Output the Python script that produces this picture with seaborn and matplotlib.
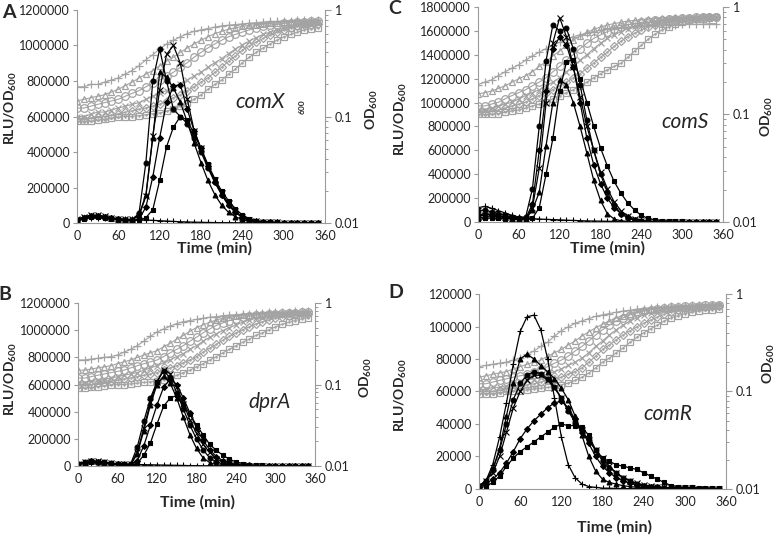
import seaborn as sns
import matplotlib.pyplot as plt
import matplotlib.ticker as mticker
import numpy as np

# time points (min), one reading every 10 min
TIME = list(range(0, 360, 10))

# ---- Panel A (comX) ----
# RLU/OD600 values in thousands
A_RLU_PLUS = [25, 28, 30, 30, 28, 26, 24, 22, 20, 18, 17, 15, 13, 11, 9, 7, 6, 5, 4, 3, 2.5, 2, 2, 1.5, 1.5, 1, 1, 1, 1, 1, 1, 1, 1, 1, 1, 1]
A_RLU_CROSS = [20, 35, 45, 45, 38, 30, 24, 20, 20, 40, 150, 490, 750, 950, 1000, 900, 700, 520, 420, 320, 240, 170, 110, 65, 35, 18, 10, 6, 4, 3, 2, 2, 1, 1, 1, 1]
A_RLU_TRI = [18, 32, 42, 42, 35, 28, 22, 18, 18, 45, 160, 480, 850, 820, 760, 680, 570, 450, 340, 240, 160, 100, 60, 35, 20, 10, 6, 4, 3, 2, 1, 1, 1, 1, 1, 1]
A_RLU_CIRC = [15, 30, 40, 40, 32, 26, 20, 16, 18, 55, 340, 800, 980, 800, 640, 600, 560, 480, 400, 310, 230, 160, 100, 60, 30, 15, 8, 5, 3, 2, 2, 1, 1, 1, 1, 1]
A_RLU_DIAM = [15, 28, 38, 38, 32, 26, 20, 16, 15, 20, 90, 260, 480, 680, 770, 780, 640, 520, 420, 320, 230, 160, 100, 60, 35, 18, 10, 6, 4, 3, 2, 1, 1, 1, 1, 1]
A_RLU_SQ = [12, 25, 35, 35, 30, 24, 18, 15, 14, 15, 30, 75, 240, 430, 540, 600, 580, 500, 420, 330, 250, 180, 125, 80, 45, 25, 14, 8, 5, 3, 2, 2, 1, 1, 1, 1]
A_OD_PLUS = [0.19, 0.19, 0.20, 0.20, 0.21, 0.22, 0.23, 0.25, 0.27, 0.30, 0.34, 0.38, 0.43, 0.48, 0.52, 0.56, 0.60, 0.63, 0.65, 0.67, 0.69, 0.71, 0.72, 0.73, 0.74, 0.75, 0.76, 0.77, 0.78, 0.78, 0.79, 0.79, 0.80, 0.80, 0.81, 0.81]
A_OD_TRI = [0.14, 0.145, 0.15, 0.155, 0.16, 0.17, 0.18, 0.195, 0.21, 0.23, 0.25, 0.27, 0.30, 0.33, 0.36, 0.40, 0.44, 0.48, 0.52, 0.56, 0.60, 0.63, 0.66, 0.68, 0.70, 0.72, 0.73, 0.74, 0.75, 0.76, 0.77, 0.77, 0.78, 0.78, 0.79, 0.79]
A_OD_CIRC = [0.12, 0.12, 0.125, 0.13, 0.135, 0.14, 0.145, 0.155, 0.165, 0.175, 0.19, 0.205, 0.22, 0.24, 0.26, 0.29, 0.32, 0.36, 0.40, 0.44, 0.48, 0.52, 0.56, 0.59, 0.62, 0.65, 0.68, 0.70, 0.72, 0.73, 0.75, 0.76, 0.77, 0.77, 0.78, 0.78]
A_OD_CROSS = [0.10, 0.10, 0.105, 0.11, 0.11, 0.115, 0.12, 0.125, 0.13, 0.135, 0.145, 0.155, 0.165, 0.175, 0.19, 0.20, 0.22, 0.24, 0.26, 0.29, 0.32, 0.35, 0.39, 0.43, 0.47, 0.51, 0.55, 0.59, 0.62, 0.65, 0.68, 0.70, 0.72, 0.74, 0.75, 0.77]
A_OD_DIAM = [0.095, 0.095, 0.097, 0.10, 0.10, 0.103, 0.106, 0.11, 0.113, 0.117, 0.12, 0.125, 0.13, 0.14, 0.15, 0.16, 0.175, 0.19, 0.21, 0.23, 0.26, 0.29, 0.33, 0.37, 0.42, 0.46, 0.50, 0.54, 0.58, 0.62, 0.65, 0.68, 0.70, 0.72, 0.73, 0.74]
A_OD_SQ = [0.09, 0.09, 0.09, 0.092, 0.094, 0.096, 0.098, 0.10, 0.10, 0.102, 0.104, 0.106, 0.108, 0.112, 0.118, 0.125, 0.135, 0.145, 0.16, 0.18, 0.20, 0.22, 0.25, 0.28, 0.32, 0.36, 0.40, 0.44, 0.48, 0.52, 0.56, 0.59, 0.62, 0.65, 0.67, 0.68]

# ---- Panel B (dprA) ----
B_RLU_PLUS = [20, 25, 25, 22, 20, 18, 16, 14, 12, 11, 10, 9, 8, 7, 6, 5, 4, 3, 3, 2, 2, 2, 1.5, 1.5, 1, 1, 1, 1, 1, 1, 1, 1, 1, 1, 1, 1]
B_RLU_CROSS = [15, 30, 40, 35, 28, 22, 16, 12, 12, 100, 280, 470, 620, 710, 680, 580, 460, 340, 240, 160, 100, 55, 30, 15, 8, 5, 3, 2, 1, 1, 1, 1, 1, 1, 1, 1]
B_RLU_TRI = [12, 25, 35, 32, 25, 20, 15, 11, 10, 90, 260, 450, 600, 660, 610, 500, 360, 230, 130, 60, 25, 10, 5, 3, 2, 1, 1, 1, 1, 1, 1, 1, 1, 1, 1, 1]
B_RLU_CIRC = [14, 28, 38, 33, 26, 20, 15, 12, 15, 140, 330, 500, 620, 700, 650, 540, 420, 300, 200, 120, 60, 30, 15, 8, 5, 3, 2, 1, 1, 1, 1, 1, 1, 1, 1, 1]
B_RLU_DIAM = [12, 24, 34, 30, 24, 18, 14, 10, 8, 40, 150, 300, 450, 580, 640, 600, 500, 390, 280, 190, 120, 70, 40, 22, 12, 7, 4, 3, 2, 1, 1, 1, 1, 1, 1, 1]
B_RLU_SQ = [10, 20, 30, 28, 22, 16, 12, 8, 5, 20, 80, 170, 310, 440, 500, 520, 460, 380, 300, 230, 160, 115, 80, 50, 30, 18, 10, 6, 4, 3, 2, 1, 1, 1, 1, 1]
B_OD_PLUS = [0.20, 0.20, 0.205, 0.21, 0.215, 0.22, 0.23, 0.25, 0.27, 0.30, 0.34, 0.39, 0.44, 0.48, 0.52, 0.56, 0.59, 0.61, 0.63, 0.65, 0.67, 0.68, 0.70, 0.71, 0.72, 0.73, 0.74, 0.75, 0.76, 0.77, 0.77, 0.78, 0.78, 0.79, 0.79, 0.80]
B_OD_TRI = [0.15, 0.15, 0.155, 0.16, 0.165, 0.17, 0.18, 0.19, 0.20, 0.215, 0.23, 0.245, 0.26, 0.29, 0.32, 0.36, 0.40, 0.45, 0.50, 0.54, 0.58, 0.62, 0.65, 0.67, 0.69, 0.71, 0.72, 0.73, 0.74, 0.75, 0.76, 0.76, 0.77, 0.77, 0.78, 0.78]
B_OD_CIRC = [0.12, 0.12, 0.125, 0.13, 0.135, 0.14, 0.145, 0.15, 0.16, 0.17, 0.18, 0.19, 0.20, 0.22, 0.245, 0.27, 0.30, 0.34, 0.38, 0.43, 0.48, 0.53, 0.57, 0.61, 0.64, 0.67, 0.69, 0.71, 0.72, 0.73, 0.74, 0.75, 0.76, 0.76, 0.77, 0.77]
B_OD_CROSS = [0.105, 0.105, 0.11, 0.11, 0.115, 0.12, 0.125, 0.13, 0.135, 0.14, 0.15, 0.16, 0.17, 0.185, 0.20, 0.22, 0.24, 0.27, 0.30, 0.34, 0.38, 0.42, 0.46, 0.50, 0.54, 0.58, 0.62, 0.65, 0.67, 0.69, 0.71, 0.72, 0.73, 0.74, 0.75, 0.76]
B_OD_DIAM = [0.10, 0.10, 0.10, 0.103, 0.106, 0.11, 0.113, 0.117, 0.12, 0.125, 0.13, 0.135, 0.14, 0.15, 0.16, 0.17, 0.185, 0.20, 0.22, 0.25, 0.28, 0.31, 0.35, 0.39, 0.43, 0.47, 0.51, 0.55, 0.59, 0.62, 0.65, 0.68, 0.70, 0.72, 0.73, 0.74]
B_OD_SQ = [0.09, 0.09, 0.092, 0.094, 0.096, 0.098, 0.10, 0.10, 0.102, 0.104, 0.106, 0.108, 0.11, 0.115, 0.12, 0.13, 0.14, 0.15, 0.165, 0.18, 0.20, 0.22, 0.245, 0.27, 0.30, 0.33, 0.36, 0.40, 0.43, 0.47, 0.51, 0.55, 0.58, 0.61, 0.64, 0.66]

# ---- Panel C (comS) ----
C_RLU_PLUS = [120, 130, 115, 95, 75, 55, 42, 34, 28, 25, 22, 20, 18, 15, 13, 11, 9, 8, 7, 6, 5, 4, 3, 3, 2, 2, 2, 1, 1, 1, 1, 1, 1, 1, 1, 1]
C_RLU_CROSS = [45, 60, 62, 52, 42, 32, 24, 26, 120, 450, 1000, 1500, 1710, 1550, 1300, 1050, 800, 600, 420, 280, 170, 95, 50, 25, 12, 6, 3, 2, 2, 1, 1, 1, 1, 1, 1, 1]
C_RLU_TRI = [30, 45, 50, 45, 35, 28, 22, 22, 100, 250, 640, 1000, 1190, 1150, 1000, 800, 575, 350, 180, 70, 25, 10, 5, 3, 2, 1, 1, 1, 1, 1, 1, 1, 1, 1, 1, 1]
C_RLU_CIRC = [95, 100, 85, 70, 55, 42, 32, 40, 280, 800, 1350, 1650, 1600, 1620, 1450, 1150, 850, 600, 400, 250, 140, 70, 35, 15, 8, 5, 3, 2, 2, 1, 1, 1, 1, 1, 1, 1]
C_RLU_DIAM = [60, 70, 62, 52, 42, 32, 25, 30, 150, 600, 1100, 1450, 1550, 1480, 1300, 1000, 700, 480, 320, 200, 120, 70, 40, 20, 10, 5, 3, 2, 1, 1, 1, 1, 1, 1, 1, 1]
C_RLU_SQ = [20, 30, 35, 30, 28, 25, 20, 18, 30, 120, 400, 700, 1100, 1340, 1360, 1200, 1000, 800, 620, 470, 340, 240, 160, 100, 55, 30, 18, 12, 8, 6, 5, 4, 3, 3, 2, 2]
C_OD_PLUS = [0.19, 0.20, 0.21, 0.23, 0.25, 0.27, 0.29, 0.32, 0.35, 0.38, 0.41, 0.44, 0.47, 0.50, 0.53, 0.55, 0.57, 0.59, 0.61, 0.62, 0.63, 0.64, 0.65, 0.66, 0.66, 0.67, 0.67, 0.68, 0.68, 0.68, 0.69, 0.69, 0.69, 0.69, 0.70, 0.70]
C_OD_TRI = [0.155, 0.16, 0.165, 0.175, 0.185, 0.20, 0.215, 0.23, 0.25, 0.28, 0.31, 0.35, 0.39, 0.44, 0.49, 0.54, 0.58, 0.62, 0.65, 0.68, 0.70, 0.72, 0.74, 0.75, 0.76, 0.77, 0.78, 0.79, 0.79, 0.80, 0.80, 0.81, 0.81, 0.81, 0.82, 0.82]
C_OD_CIRC = [0.12, 0.12, 0.125, 0.13, 0.14, 0.15, 0.16, 0.17, 0.185, 0.20, 0.22, 0.25, 0.28, 0.32, 0.36, 0.41, 0.46, 0.51, 0.55, 0.59, 0.62, 0.65, 0.68, 0.70, 0.72, 0.74, 0.75, 0.76, 0.77, 0.78, 0.79, 0.79, 0.80, 0.80, 0.81, 0.81]
C_OD_CROSS = [0.11, 0.11, 0.115, 0.12, 0.125, 0.13, 0.14, 0.15, 0.16, 0.17, 0.185, 0.20, 0.22, 0.25, 0.28, 0.32, 0.36, 0.41, 0.46, 0.51, 0.55, 0.59, 0.63, 0.66, 0.69, 0.71, 0.73, 0.75, 0.76, 0.77, 0.78, 0.79, 0.79, 0.80, 0.80, 0.81]
C_OD_DIAM = [0.105, 0.105, 0.108, 0.11, 0.115, 0.12, 0.125, 0.13, 0.14, 0.15, 0.16, 0.17, 0.185, 0.20, 0.22, 0.24, 0.27, 0.30, 0.34, 0.38, 0.43, 0.48, 0.53, 0.57, 0.61, 0.65, 0.68, 0.71, 0.73, 0.75, 0.77, 0.78, 0.79, 0.80, 0.80, 0.81]
C_OD_SQ = [0.10, 0.10, 0.10, 0.102, 0.105, 0.108, 0.11, 0.115, 0.12, 0.125, 0.13, 0.14, 0.15, 0.16, 0.17, 0.185, 0.20, 0.22, 0.24, 0.26, 0.28, 0.30, 0.34, 0.39, 0.44, 0.50, 0.56, 0.61, 0.65, 0.69, 0.72, 0.75, 0.77, 0.78, 0.79, 0.80]

# ---- Panel D (comR) ----
D_RLU_PLUS = [1, 5, 15, 32, 53, 77, 97, 106, 107, 98, 80, 56, 32, 15, 7, 3, 1.5, 1, 0.5, 0.5, 0.3, 0.3, 0.2, 0.2, 0.2, 0.2, 0.1, 0.1, 0.1, 0.1, 0.1, 0.1, 0.1, 0.1, 0.1, 0.1]
D_RLU_CROSS = [2, 5, 10, 20, 35, 50, 60, 67, 70, 70, 67, 62, 56, 49, 42, 36, 30, 24, 19, 14, 10, 7, 5, 3.5, 2.5, 2, 1.5, 1, 0.8, 0.6, 0.5, 0.4, 0.3, 0.3, 0.2, 0.2]
D_RLU_TRI = [2, 5, 12, 25, 45, 65, 80, 83, 80, 76, 72, 68, 62, 55, 45, 33, 20, 11, 6, 4, 3, 2, 1.5, 1, 1, 0.8, 0.6, 0.5, 0.4, 0.3, 0.3, 0.2, 0.2, 0.2, 0.2, 0.2]
D_RLU_CIRC = [2, 5, 12, 24, 40, 55, 65, 70, 72, 71, 68, 63, 56, 48, 41, 35, 30, 24, 17, 13, 10, 7, 5, 3, 2, 1.5, 1, 0.8, 0.6, 0.5, 0.4, 0.3, 0.3, 0.2, 0.2, 0.2]
D_RLU_DIAM = [1, 3, 6, 10, 16, 23, 31, 37, 42, 46, 50, 53, 54, 50, 43, 36, 28, 20, 14, 10, 7, 5, 3.5, 2.5, 2, 1.5, 1, 0.8, 0.6, 0.5, 0.4, 0.3, 0.3, 0.2, 0.2, 0.2]
D_RLU_SQ = [1, 1.5, 4, 8, 14, 19, 23, 26, 29, 32, 35, 38, 40, 39, 39, 38, 33, 24, 19, 17, 15, 14, 13, 12, 10, 8, 6, 4, 2, 1.5, 1, 1, 0.8, 0.8, 0.6, 0.5]
D_OD_PLUS = [0.18, 0.185, 0.19, 0.195, 0.20, 0.21, 0.22, 0.24, 0.26, 0.29, 0.32, 0.37, 0.42, 0.46, 0.50, 0.53, 0.56, 0.59, 0.61, 0.63, 0.65, 0.67, 0.68, 0.70, 0.71, 0.72, 0.73, 0.74, 0.75, 0.76, 0.76, 0.77, 0.77, 0.78, 0.78, 0.78]
D_OD_TRI = [0.14, 0.145, 0.15, 0.155, 0.16, 0.17, 0.18, 0.19, 0.20, 0.21, 0.23, 0.25, 0.27, 0.30, 0.33, 0.37, 0.41, 0.45, 0.49, 0.53, 0.57, 0.60, 0.63, 0.66, 0.68, 0.70, 0.71, 0.72, 0.73, 0.74, 0.75, 0.75, 0.76, 0.76, 0.77, 0.77]
D_OD_CIRC = [0.12, 0.12, 0.125, 0.13, 0.135, 0.14, 0.145, 0.15, 0.16, 0.17, 0.18, 0.195, 0.21, 0.23, 0.26, 0.29, 0.33, 0.38, 0.43, 0.48, 0.53, 0.57, 0.61, 0.64, 0.67, 0.69, 0.71, 0.72, 0.73, 0.74, 0.75, 0.76, 0.76, 0.77, 0.77, 0.78]
D_OD_CROSS = [0.105, 0.105, 0.11, 0.11, 0.115, 0.12, 0.125, 0.13, 0.135, 0.14, 0.15, 0.16, 0.17, 0.185, 0.20, 0.22, 0.25, 0.29, 0.33, 0.38, 0.43, 0.48, 0.53, 0.57, 0.61, 0.64, 0.67, 0.69, 0.71, 0.72, 0.73, 0.74, 0.75, 0.76, 0.76, 0.77]
D_OD_DIAM = [0.10, 0.10, 0.10, 0.103, 0.106, 0.11, 0.113, 0.117, 0.12, 0.125, 0.13, 0.135, 0.14, 0.15, 0.16, 0.175, 0.20, 0.23, 0.27, 0.30, 0.34, 0.38, 0.42, 0.46, 0.50, 0.54, 0.58, 0.62, 0.65, 0.68, 0.70, 0.72, 0.73, 0.74, 0.75, 0.76]
D_OD_SQ = [0.095, 0.095, 0.095, 0.097, 0.10, 0.10, 0.102, 0.104, 0.106, 0.108, 0.11, 0.113, 0.117, 0.122, 0.13, 0.14, 0.155, 0.175, 0.20, 0.22, 0.25, 0.28, 0.32, 0.36, 0.40, 0.44, 0.48, 0.53, 0.57, 0.60, 0.63, 0.65, 0.67, 0.68, 0.69, 0.70]

GRAY = '#a3a3a3'
AXIS_GRAY = '#9a9a9a'

sns.set_style("white")
plt.rcParams['font.family'] = ['Lato', 'DejaVu Sans']
plt.rcParams['mathtext.fontset'] = 'custom'
plt.rcParams['mathtext.rm'] = 'Lato:bold'
plt.rcParams['mathtext.default'] = 'rm'

fig = plt.figure(figsize=(7.77, 5.37), dpi=100)


def draw_panel(rect, rlu, od, ymax, ystep, gene, gene_pos,
               ylab_pos, od_lab_pos, xlab_pos):
    ax = fig.add_axes(rect)
    ax2 = ax.twinx()

    # growth curves (OD600, log scale, grey open markers)
    od_styles = [('+', 5.5, False), ('^', 5, False), ('o', 5.5, False),
                 ('x', 4.5, False), ('D', 4, True), ('s', 5, True)]
    for vals, (mk, ms, dotted) in zip(od, od_styles):
        sns.lineplot(x=TIME, y=vals, ax=ax2, color=GRAY, linewidth=0.8,
                     marker=mk, markersize=ms, markerfacecolor='none',
                     markeredgecolor=GRAY, markeredgewidth=0.9, legend=False)
        if dotted:
            ax2.plot(TIME, vals, linestyle='none', marker='.', markersize=1.6,
                     color=GRAY)

    # luciferase curves (black)
    rlu_styles = [('+', 4.5), ('x', 4), ('^', 3.5), ('o', 3.5), ('D', 3), ('s', 3.5)]
    for vals, (mk, ms) in zip(rlu, rlu_styles):
        sns.lineplot(x=TIME, y=np.array(vals) * 1000, ax=ax, color='black',
                     linewidth=0.9, marker=mk, markersize=ms,
                     markerfacecolor='black', markeredgecolor='black',
                     markeredgewidth=0.8, legend=False)

    ax.set_zorder(ax2.get_zorder() + 1)
    ax.patch.set_visible(False)

    ax.set_xlim(0, 360)
    ax.set_ylim(0, ymax)
    ax.set_xticks(range(0, 361, 60))
    ax.set_yticks(np.arange(0, ymax + 1, ystep))
    ax.yaxis.set_major_formatter(mticker.FuncFormatter(lambda v, p: f'{int(v)}'))
    ax2.set_yscale('log')
    ax2.set_ylim(0.01, 1)
    ax2.set_yticks([0.01, 0.1, 1])
    ax2.set_yticklabels(['0.01', '0.1', '1'])
    ax2.yaxis.set_minor_locator(mticker.LogLocator(base=10, subs=np.arange(2, 10)))
    ax2.yaxis.set_minor_formatter(mticker.NullFormatter())

    for s in ['top', 'right']:
        ax.spines[s].set_visible(False)
    for s in ['top', 'left', 'bottom']:
        ax2.spines[s].set_visible(False)
    for s in ['left', 'bottom']:
        ax.spines[s].set_color(AXIS_GRAY)
    ax2.spines['right'].set_color(AXIS_GRAY)

    ax.tick_params(axis='both', labelsize=9, colors='#222222', length=3,
                   width=0.8, color=AXIS_GRAY, direction='out', pad=2)
    ax2.tick_params(axis='y', which='major', labelsize=9, colors='#222222',
                    length=4, width=0.8, color=AXIS_GRAY, pad=3)
    ax2.tick_params(axis='y', which='minor', length=2.5, width=0.7, color=AXIS_GRAY)

    ax.set_xlabel('Time (min)', fontsize=11.5, fontweight='bold', va='center')
    ax.xaxis.set_label_coords(*xlab_pos)
    ax.set_ylabel(r'RLU/OD$_{600}$', fontsize=10, fontweight='bold',
                  va='center', ha='center')
    ax.yaxis.set_label_coords(*ylab_pos)
    ax2.set_ylabel(r'OD$_{600}$', fontsize=10, fontweight='bold',
                   va='center', ha='center', rotation=90)
    ax2.yaxis.set_label_coords(*od_lab_pos)

    ax.text(gene_pos[0], gene_pos[1], gene, transform=ax.transAxes,
            fontsize=15, fontstyle='italic', ha='center', va='center')
    return ax


ax_a = draw_panel([0.0991, 0.5847, 0.3192, 0.3967],
                  [A_RLU_PLUS, A_RLU_CROSS, A_RLU_TRI, A_RLU_CIRC, A_RLU_DIAM, A_RLU_SQ],
                  [A_OD_PLUS, A_OD_TRI, A_OD_CIRC, A_OD_CROSS, A_OD_DIAM, A_OD_SQ],
                  1200000, 200000, 'comX', (0.74, 0.57),
                  (-0.266, 0.54), (1.19, 0.53), (0.556, -0.117))
# stray subscript left over in the original figure
ax_a.text(0.907, 0.545, '600', transform=ax_a.transAxes, fontsize=6,
          fontweight='bold', rotation=90, ha='center', va='center')

draw_panel([0.1004, 0.1322, 0.3050, 0.3035],
           [B_RLU_PLUS, B_RLU_CROSS, B_RLU_TRI, B_RLU_CIRC, B_RLU_DIAM, B_RLU_SQ],
           [B_OD_PLUS, B_OD_TRI, B_OD_CIRC, B_OD_CROSS, B_OD_DIAM, B_OD_SQ],
           1200000, 200000, 'dprA', (0.81, 0.39),
           (-0.283, 0.53), (1.215, 0.54), (0.506, -0.221))

draw_panel([0.6152, 0.5866, 0.3153, 0.4004],
           [C_RLU_PLUS, C_RLU_CROSS, C_RLU_TRI, C_RLU_CIRC, C_RLU_DIAM, C_RLU_SQ],
           [C_OD_PLUS, C_OD_TRI, C_OD_CIRC, C_OD_CROSS, C_OD_DIAM, C_OD_SQ],
           1800000, 200000, 'comS', (0.845, 0.465),
           (-0.314, 0.48), (1.18, 0.49), (0.527, -0.121))

draw_panel([0.6165, 0.0894, 0.3179, 0.3631],
           [D_RLU_PLUS, D_RLU_CROSS, D_RLU_TRI, D_RLU_CIRC, D_RLU_DIAM, D_RLU_SQ],
           [D_OD_PLUS, D_OD_TRI, D_OD_CIRC, D_OD_CROSS, D_OD_DIAM, D_OD_SQ],
           120000, 20000, 'comR', (0.765, 0.385),
           (-0.316, 0.48), (1.174, 0.64), (0.547, -0.195))

# panel letters
for letter, (px, py) in {'A': (9, 12), 'B': (5, 295), 'C': (395, 9), 'D': (396, 292)}.items():
    fig.text(px / 777, 1 - py / 537, letter, fontsize=14, fontweight='bold',
             ha='center', va='center')

fig.savefig('out.png', dpi=100)
